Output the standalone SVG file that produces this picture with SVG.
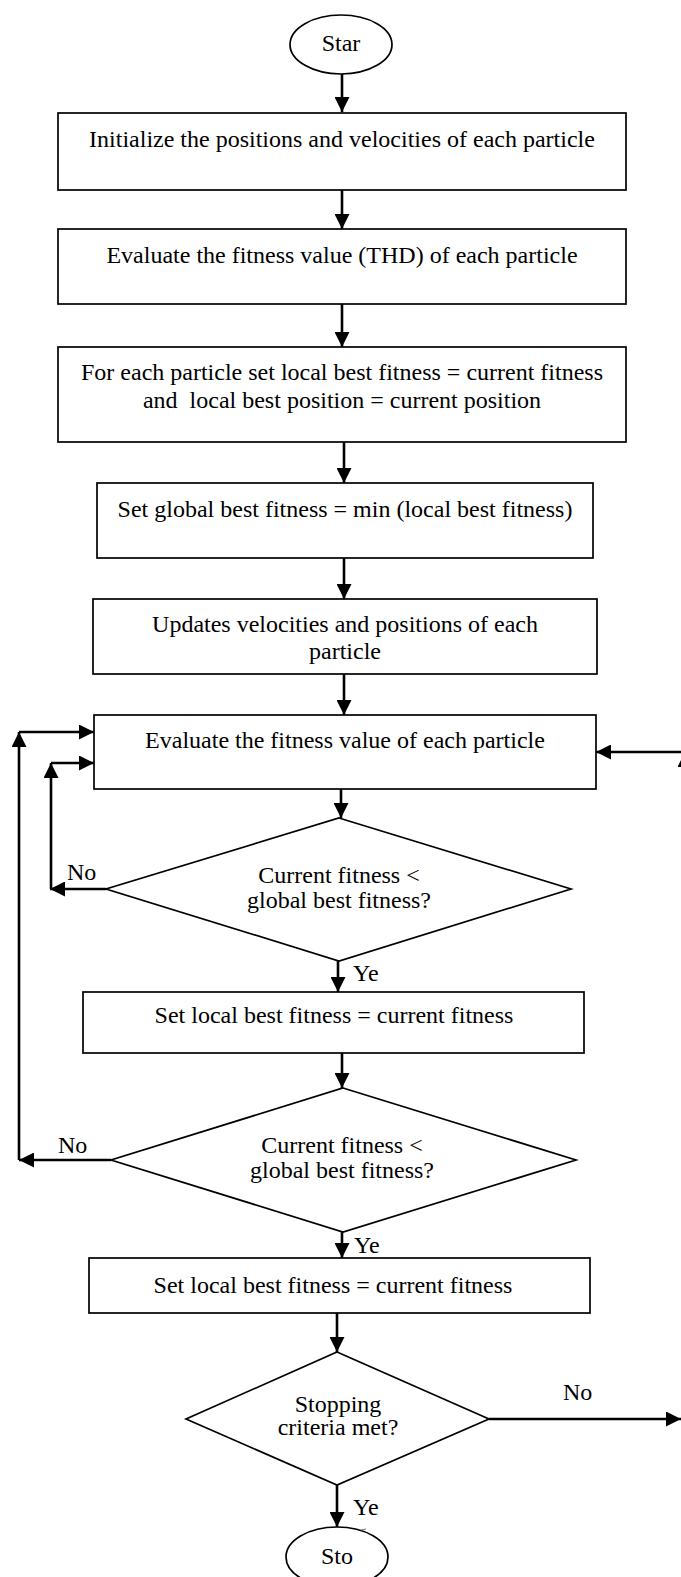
<svg xmlns="http://www.w3.org/2000/svg" width="681" height="1577" viewBox="0 0 681 1577">
<style>
.box{fill:#fff;stroke:#000;stroke-width:1.7}
.conn{stroke:#000;stroke-width:2.6;fill:none}
text{font-family:"Liberation Serif","Times New Roman",serif;font-size:24px;fill:#000}
.c{text-anchor:middle}
</style>
<defs>
<marker id="ah" viewBox="0 0 15 15" markerWidth="15" markerHeight="15" markerUnits="userSpaceOnUse" refX="15" refY="7.5" orient="auto">
<path d="M0,0 L15,7.5 L0,15 z" fill="#000"/>
</marker>
</defs>
<rect width="681" height="1577" fill="#fff"/>
<g id="start"><ellipse class="box" cx="341" cy="44.5" rx="51" ry="29.5"/><text class="c" x="341" y="51">Star</text></g>
<g id="init"><rect class="box" x="58" y="113" width="568" height="77"/><text class="c" x="342" y="147">Initialize the positions and velocities of each particle</text></g>
<g id="evalthd"><rect class="box" x="58" y="229" width="568" height="75"/><text class="c" x="342" y="263">Evaluate the fitness value (THD) of each particle</text></g>
<g id="setlocal"><rect class="box" x="58" y="347" width="568" height="95"/><text class="c" x="342" y="380">For each particle set local best fitness = current fitness</text><text class="c" x="342" y="408" style="white-space:pre">and  local best position = current position</text></g>
<g id="setglobal"><rect class="box" x="97" y="483" width="496" height="75"/><text class="c" x="345" y="517">Set global best fitness = min (local best fitness)</text></g>
<g id="update"><rect class="box" x="93" y="599" width="504" height="75"/><text class="c" x="345" y="632">Updates velocities and positions of each</text><text class="c" x="345" y="659">particle</text></g>
<g id="evalfit"><rect class="box" x="94" y="715" width="502" height="74"/><text class="c" x="345" y="748">Evaluate the fitness value of each particle</text></g>
<g id="dec1"><polygon class="box" points="339,818 571,889 339,961 106,889"/><text class="c" x="339" y="883">Current fitness &lt;</text><text class="c" x="339" y="908">global best fitness?</text></g>
<g id="setlb1"><rect class="box" x="83" y="992" width="501" height="61"/><text class="c" x="334" y="1023">Set local best fitness = current fitness</text></g>
<g id="dec2"><polygon class="box" points="343,1088 576,1160 343,1232 111,1160"/><text class="c" x="342" y="1153">Current fitness &lt;</text><text class="c" x="342" y="1178">global best fitness?</text></g>
<g id="setlb2"><rect class="box" x="89" y="1258" width="501" height="55"/><text class="c" x="333" y="1293">Set local best fitness = current fitness</text></g>
<g id="dec3"><polygon class="box" points="337,1352 489,1419 337,1485 186,1419"/><text class="c" x="338" y="1412">Stopping</text><text class="c" x="338" y="1435">criteria met?</text></g>
<g id="stop"><ellipse class="box" cx="337" cy="1557" rx="51" ry="30"/><text class="c" x="337" y="1564">Sto</text><line x1="361" y1="1530" x2="366" y2="1529" stroke="#777" stroke-width="1"/></g>
<g id="connectors">
<path class="conn" d="M342,74 V112" marker-end="url(#ah)"/>
<path class="conn" d="M342,190 V229" marker-end="url(#ah)"/>
<path class="conn" d="M342,304 V347" marker-end="url(#ah)"/>
<path class="conn" d="M344,442 V483" marker-end="url(#ah)"/>
<path class="conn" d="M344,558 V599" marker-end="url(#ah)"/>
<path class="conn" d="M344,674 V715" marker-end="url(#ah)"/>
<path class="conn" d="M341,789 V818" marker-end="url(#ah)"/>
<path class="conn" d="M338,961 V992" marker-end="url(#ah)"/>
<path class="conn" d="M106,889 H50" marker-end="url(#ah)"/>
<path class="conn" d="M51,889 V763" marker-end="url(#ah)"/>
<path class="conn" d="M51,763 H94" marker-end="url(#ah)"/>
<path class="conn" d="M342,1053 V1088" marker-end="url(#ah)"/>
<path class="conn" d="M111,1160 H19" marker-end="url(#ah)"/>
<path class="conn" d="M19,1160 V732" marker-end="url(#ah)"/>
<path class="conn" d="M19,732 H94" marker-end="url(#ah)"/>
<path class="conn" d="M342,1232 V1258" marker-end="url(#ah)"/>
<path class="conn" d="M337,1313 V1352" marker-end="url(#ah)"/>
<path class="conn" d="M489,1419 H681" marker-end="url(#ah)"/>
<path class="conn" d="M685,1419 V752" marker-end="url(#ah)"/>
<path class="conn" d="M685,752 H596" marker-end="url(#ah)"/>
<path class="conn" d="M337,1485 V1527" marker-end="url(#ah)"/>
</g>
<g id="labels">
<text x="67" y="880">No</text>
<text x="58" y="1153">No</text>
<text x="353" y="981">Ye</text>
<text x="354" y="1253">Ye</text>
<text x="563" y="1400">No</text>
<text x="353" y="1515">Ye</text>
</g>
</svg>
